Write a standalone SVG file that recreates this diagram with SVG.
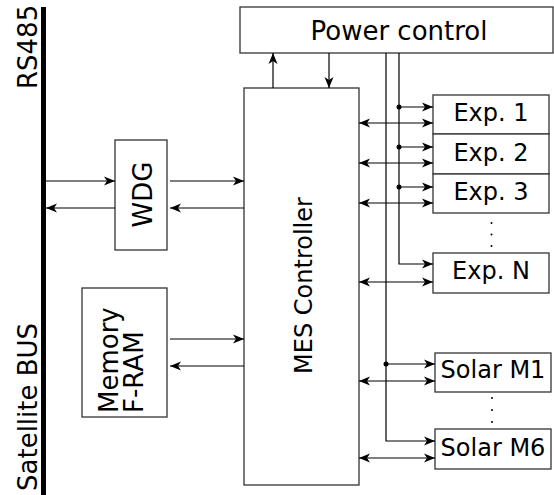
<svg xmlns="http://www.w3.org/2000/svg" width="554" height="495" viewBox="0 0 554 495">
<style>
.box{fill:#fff;stroke:#333;stroke-width:1.3}
.ln{fill:none;stroke:#000;stroke-width:1.2}
.t{font-family:"DejaVu Sans",sans-serif;fill:#000}
</style>
<defs>
<marker id="ah" viewBox="-11 -5 12 10" refX="0" refY="0" markerWidth="12" markerHeight="10" orient="auto-start-reverse" markerUnits="userSpaceOnUse">
<path d="M0,0 L-11,-4.5 L-8,0 L-11,4.5 Z" fill="#000"/>
</marker>
</defs>
<rect width="554" height="495" fill="#fff"/>
<g id="bus">
<line x1="43.5" y1="7" x2="43.5" y2="495" stroke="#000" stroke-width="5"/>
<text class="t" font-size="26" transform="translate(37,89) rotate(-90)">RS485</text>
<text class="t" font-size="26" transform="translate(37,491) rotate(-90)">Satellite BUS</text>
</g>
<g id="power">
<rect class="box" x="240" y="7" width="313" height="46"/>
<text class="t" font-size="26" x="399" y="40" text-anchor="middle">Power control</text>
</g>
<g id="mes">
<rect class="box" x="244" y="88" width="115" height="397" stroke="#000"/>
<text class="t" font-size="24" text-anchor="middle" transform="translate(312,285.5) rotate(-90)">MES Controller</text>
</g>
<g id="wdg">
<rect class="box" x="115" y="140" width="52" height="110"/>
<text class="t" font-size="26" text-anchor="middle" transform="translate(152,194.5) rotate(-90)">WDG</text>
</g>
<g id="memory">
<rect class="box" x="82" y="288" width="85" height="129"/>
<text class="t" font-size="26" transform="translate(118,413) rotate(-90)">Memory</text>
<text class="t" font-size="26" transform="translate(143,413) rotate(-90)">F-RAM</text>
</g>
<g id="exp1">
<rect class="box" x="433" y="95" width="116" height="39"/>
<text class="t" font-size="24" x="491" y="121" text-anchor="middle">Exp. 1</text>
</g>
<g id="exp2">
<rect class="box" x="433" y="134" width="116" height="40"/>
<text class="t" font-size="24" x="491" y="161" text-anchor="middle">Exp. 2</text>
</g>
<g id="exp3">
<rect class="box" x="433" y="174" width="116" height="39"/>
<text class="t" font-size="24" x="491" y="200" text-anchor="middle">Exp. 3</text>
</g>
<g id="expN">
<rect class="box" x="433" y="253" width="116" height="40"/>
<text class="t" font-size="24" x="491" y="279" text-anchor="middle">Exp. N</text>
</g>
<g id="solar1">
<rect class="box" x="435" y="353" width="116" height="39"/>
<text class="t" font-size="24" x="493" y="378" text-anchor="middle">Solar M1</text>
</g>
<g id="solar6">
<rect class="box" x="435" y="429" width="116" height="40"/>
<text class="t" font-size="24" x="493" y="456" text-anchor="middle">Solar M6</text>
</g>
<g id="ellipses" fill="#000">
<circle cx="491.5" cy="223" r="1"/><circle cx="491.5" cy="234.5" r="1"/><circle cx="491.5" cy="246" r="1"/>
<circle cx="492" cy="398" r="1"/><circle cx="492" cy="410" r="1"/><circle cx="492" cy="422" r="1"/>
</g>
<g id="connectors">
<line class="ln" x1="46" y1="181" x2="115" y2="181" marker-end="url(#ah)"/>
<line class="ln" x1="115" y1="208" x2="46" y2="208" marker-end="url(#ah)"/>
<line class="ln" x1="170" y1="181" x2="244" y2="181" marker-end="url(#ah)"/>
<line class="ln" x1="244" y1="208" x2="170" y2="208" marker-end="url(#ah)"/>
<line class="ln" x1="170" y1="339" x2="244" y2="339" marker-end="url(#ah)"/>
<line class="ln" x1="244" y1="366" x2="170" y2="366" marker-end="url(#ah)"/>
<line class="ln" x1="273" y1="88" x2="273" y2="53" marker-end="url(#ah)"/>
<line class="ln" x1="329" y1="53" x2="329" y2="88" marker-end="url(#ah)"/>
<path class="ln" d="M399,53 V264 H433" marker-end="url(#ah)"/>
<path class="ln" d="M386,53 V441 H435" marker-end="url(#ah)"/>
<line class="ln" x1="399" y1="107" x2="433" y2="107" marker-end="url(#ah)"/>
<line class="ln" x1="399" y1="147" x2="433" y2="147" marker-end="url(#ah)"/>
<line class="ln" x1="399" y1="187" x2="433" y2="187" marker-end="url(#ah)"/>
<line class="ln" x1="386" y1="364" x2="435" y2="364" marker-end="url(#ah)"/>
<circle cx="399" cy="107" r="2.5"/>
<circle cx="399" cy="147" r="2.5"/>
<circle cx="399" cy="187" r="2.5"/>
<circle cx="386" cy="364" r="2.5"/>
<line class="ln" x1="359" y1="123" x2="433" y2="123" marker-start="url(#ah)" marker-end="url(#ah)"/>
<line class="ln" x1="359" y1="163" x2="433" y2="163" marker-start="url(#ah)" marker-end="url(#ah)"/>
<line class="ln" x1="359" y1="203" x2="433" y2="203" marker-start="url(#ah)" marker-end="url(#ah)"/>
<line class="ln" x1="359" y1="282" x2="433" y2="282" marker-start="url(#ah)" marker-end="url(#ah)"/>
<line class="ln" x1="359" y1="381" x2="435" y2="381" marker-start="url(#ah)" marker-end="url(#ah)"/>
<line class="ln" x1="359" y1="458" x2="435" y2="458" marker-start="url(#ah)" marker-end="url(#ah)"/>
</g>
</svg>
